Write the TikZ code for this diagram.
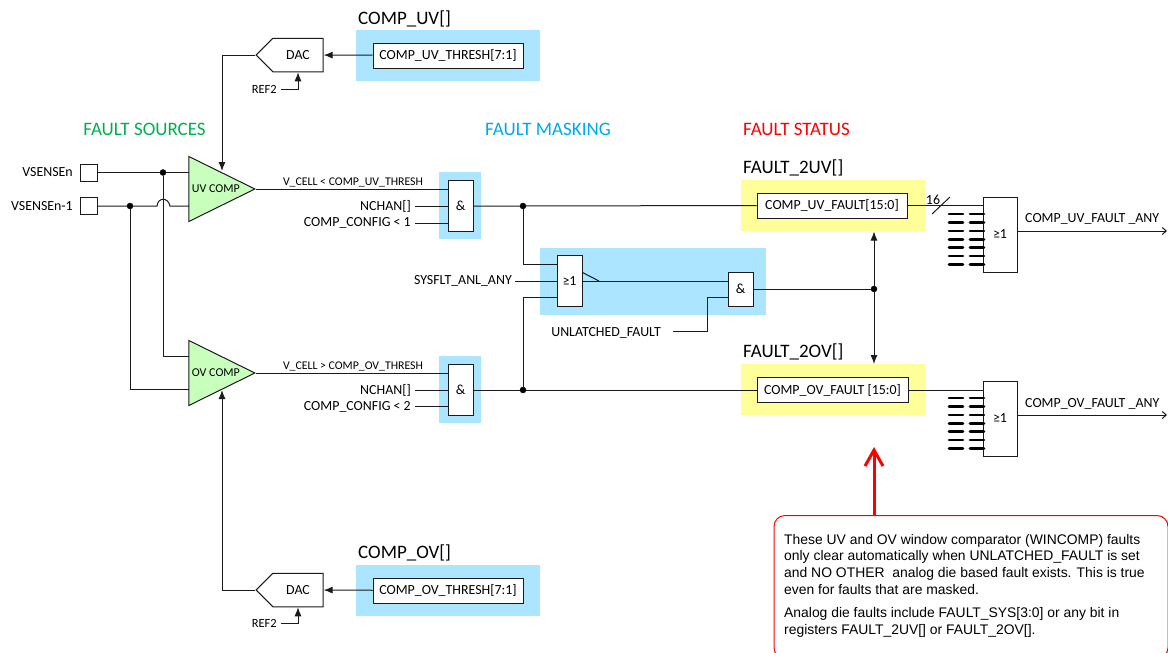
\documentclass[tikz,border=0pt]{standalone}
\usepackage{fontspec}
\setmainfont{Carlito}
\newfontfamily\notefont{Liberation Sans}
\usetikzlibrary{arrows.meta,shapes.geometric,shapes.symbols}
\definecolor{maskblue}{HTML}{ABE5FF}
\definecolor{statusyellow}{HTML}{FFFF99}
\definecolor{compgreen}{HTML}{C9FFBD}
\definecolor{wirecol}{HTML}{1A1A1A}
\definecolor{srcgreen}{HTML}{00B050}
\definecolor{maskhead}{HTML}{00A8F0}
\begin{document}
\begin{tikzpicture}[x=1pt, y=-1pt, font=\fontsize{13.9}{16}\selectfont,
        w/.style={draw=wirecol, line width=1pt},
        wto/.style={w, -{Latex[length=9pt,width=7pt]}},
        s/.style={draw=wirecol, line width=1pt, fill=white, minimum height=25pt, inner sep=0pt},
        g/.style={draw=wirecol, line width=1pt, fill=white, minimum width=25pt, inner sep=0pt},
        v/.style={draw, fill=black, circle, inner sep=0pt, minimum size=6pt},
        pin/.style={draw=wirecol, line width=1pt, fill=white, minimum size=17pt, inner sep=0pt},
        t/.style={inner sep=0pt},
        small/.style={inner sep=0pt, font=\fontsize{11.8}{14}\selectfont},
        head/.style={inner sep=0pt, font=\fontsize{19}{22}\selectfont},
        regname/.style={inner sep=0pt, anchor=west, font=\fontsize{19}{22}\selectfont},
        comp/.style={draw=wirecol, line width=1pt, fill=compgreen, shape=isosceles triangle, isosceles triangle apex angle=52,
            isosceles triangle stretches, minimum width=65pt, minimum height=66pt, inner sep=0pt, anchor=apex, font=\fontsize{12}{14}\selectfont},
        dac/.style={draw=wirecol, line width=1pt, fill=white, shape=signal, signal to=west, signal pointer angle=90, inner sep=0pt,
            minimum height=33.5pt, minimum width=67pt}]
        \useasboundingbox (0,0) rectangle (1168,653);
        % backgrounds
        \fill[maskblue] (356,30) rectangle (540,81);
        \fill[maskblue] (356,565) rectangle (540,616);
        \fill[maskblue] (439,172) rectangle (481,239);
        \fill[maskblue] (439,356) rectangle (481,423);
        \fill[maskblue] (540,248) rectangle (766,315);
        \fill[statusyellow] (741,180) rectangle (925,231);
        \fill[statusyellow] (741,364) rectangle (925,415);

        % headings
        \node[head, text=srcgreen] (srchead) at (144.5,129) {FAULT SOURCES};
        \node[head, text=maskhead] (maskhd) at (548,129) {FAULT MASKING};
        \node[head, text=red] (stathead) at (796.5,129) {FAULT STATUS};
        \node[regname] (regcompuv) at (358,19) {COMP\_UV[]};
        \node[regname] (regcompov) at (358,553) {COMP\_OV[]};
        \node[regname] (regfaultuv) at (743,168) {FAULT\_2UV[]};
        \node[regname] (regfaultov) at (743,352) {FAULT\_2OV[]};

        % inputs
        \node[pin] (pinn) at (88.5,172.5) {};
        \node[pin] (pinm) at (88.5,206) {};
        \node[t, anchor=east] (lbln) at (73,172.5) {VSENSEn};
        \node[t, anchor=east] (lblm) at (73,206) {VSENSEn-1};

        % comparators
        \node[comp] (uvcomp) at (256,189) {UV COMP};
        \node[comp] (ovcomp) at (256,373) {OV COMP};
        \node[v] (dotn) at (163,172.5) {};
        \node[v] (dotm) at (130,206) {};
        \coordinate (uvinn) at (189,172.5);
        \coordinate (uvinm) at (189,206);
        \coordinate (ovinn) at (189,356);
        \coordinate (ovinm) at (189,389.5);
        \draw[w] (pinn) -- (dotn) -- (uvinn);
        \draw[w] (pinm) -- (dotm) -- (157,206) .. controls (158,197) and (168,197) .. (170,206) -- (uvinm);
        \draw[w] (dotn) -- (dotn |- ovinn) -- (ovinn);
        \draw[w] (dotm) -- (dotm |- ovinm) -- (ovinm);

        % DACs
        \node[dac] (dacuv) at (298,55) {DAC};
        \node[dac] (dacov) at (298,590) {DAC};
        \node[s, minimum width=150pt] (threshuv) at (448,55.5) {COMP\_UV\_THRESH[7:1]};
        \node[s, minimum width=150pt] (threshov) at (448,590.5) {COMP\_OV\_THRESH[7:1]};
        \draw[wto] (threshuv) -- (dacuv);
        \draw[wto] (threshov) -- (dacov);
        \coordinate (uvcompin) at (222,171);
        \coordinate (ovcompin) at (222,390);
        \draw[wto] (dacuv.west) -- (dacuv.west -| uvcompin) -- (uvcompin);
        \draw[wto] (dacov.west) -- (dacov.west -| ovcompin) -- (ovcompin);
        \node[t, anchor=east, font=\fontsize{12.5}{14}\selectfont] (refuv) at (277,89.5) {REF2};
        \node[t, anchor=east, font=\fontsize{12.5}{14}\selectfont] (refov) at (277,623) {REF2};
        \draw[wto] (refuv.east) ++(4,0) -- (298,89.5) -- (dacuv.south);
        \draw[wto] (refov.east) ++(4,0) -- (298,623) -- (dacov.south);

        % masking gates
        \node[g, minimum height=50.5pt] (anduv) at (460.5,206) {\&};
        \node[g, minimum height=50.5pt] (andov) at (460.5,390) {\&};
        \draw[w] (uvcomp.apex) -- (anduv.west |- uvcomp.apex);
        \draw[w] (ovcomp.apex) -- (andov.west |- ovcomp.apex);
        \node[small, anchor=south] (vuv) at (353,187) {V\_CELL < COMP\_UV\_THRESH};
        \node[small, anchor=south] (vov) at (353,371) {V\_CELL > COMP\_OV\_THRESH};
        \node[t, anchor=east] (nchanuv) at (411,206) {NCHAN[]};
        \node[t, anchor=east] (cfguv) at (411,223) {COMP\_CONFIG < 1};
        \node[t, anchor=east] (nchanov) at (411,390) {NCHAN[]};
        \node[t, anchor=east] (cfgov) at (411,406.5) {COMP\_CONFIG < 2};
        \draw[w] (nchanuv.east) ++(4,0) -- (anduv.west);
        \draw[w] (cfguv.east) ++(4,0) -- (cfguv -| anduv.west);
        \draw[w] (nchanov.east) ++(4,0) -- (andov.west);
        \draw[w] (cfgov.east) ++(4,0) -- (cfgov -| andov.west);

        % status registers
        \node[s, minimum width=150pt] (faultuv) at (832,205.5) {COMP\_UV\_FAULT[15:0]};
        \node[s, minimum width=151pt] (faultov) at (832.5,390) {COMP\_OV\_FAULT [15:0]};
        \node[v] (dotuv) at (523,206) {};
        \node[v] (dotov) at (523,390) {};
        \draw[w] (anduv.east) -- (dotuv) -- (faultuv.west);
        \draw[w] (andov.east) -- (dotov) -- (faultov.west);

        % unlatch logic
        \node[g, minimum height=50.5pt] (orgate) at (569.5,281) {≥1};
        \node[g, minimum height=34pt] (andlatch) at (740.5,289) {\&};
        \coordinate (orina) at (556.5,264.5);
        \coordinate (orinc) at (556.5,297.5);
        \coordinate (latchin) at (728,297.5);
        \draw[w] (dotuv) -- (dotuv |- orina) -- (orina);
        \draw[w] (dotov) -- (dotov |- orinc) -- (orinc);
        \node[t, anchor=east] (sysflt) at (512,281) {SYSFLT\_ANL\_ANY};
        \draw[w] (sysflt.east) ++(3,0) -- (orgate.west);
        \draw[w] (orgate.east) -- (andlatch.west |- orgate.east);
        \draw[w] (orgate.east) ++(0,-8.5) -- (599,281);
        \node[t, anchor=east] (unlatched) at (661,333) {UNLATCHED\_FAULT};
        \draw[w] (unlatched.east) ++(12,-2) -- (707,331) -- (707,297.5) -- (latchin);
        \node[v] (dotstat) at (874,289) {};
        \draw[w] (andlatch.east) -- (dotstat);
        \draw[wto] (dotstat) -- (874,231.5);
        \draw[wto] (dotstat) -- (874,364);

        % any gates
        \node[g, minimum width=34pt, minimum height=75pt] (anyuv) at (1000,234.5) {≥1};
        \node[g, minimum width=34pt, minimum height=75pt] (anyov) at (1000,418.5) {≥1};
        \draw[w] (faultuv.east) -- (anyuv.west |- faultuv.east);
        \draw[w] (faultov.east) -- (anyov.west |- faultov.east);
        \node[t] (bus) at (933,199.5) {16};
        \draw[w] (932,214) -- (950,197);
        \foreach \y in {214,222.3,231,239.3,247.7,256,264.3} {
            \draw[line width=2.6pt, line cap=round] (949,\y) -- (963,\y);
            \draw[line width=2.6pt, line cap=round] (970,\y) -- (984,\y);
            \draw[line width=2.6pt, line cap=round] (949,\y+184) -- (963,\y+184);
            \draw[line width=2.6pt, line cap=round] (970,\y+184) -- (984,\y+184);
        }
        \coordinate (outuv) at (1167,231);
        \coordinate (outov) at (1167,415);
        \draw[w, -{Straight Barb[length=4pt,width=7pt]}] (anyuv.east |- outuv) -- (outuv);
        \draw[w, -{Straight Barb[length=4pt,width=7pt]}] (anyov.east |- outov) -- (outov);
        \node[t, anchor=west] (anyuvlbl) at (1025,219) {COMP\_UV\_FAULT \_ANY};
        \node[t, anchor=west] (anyovlbl) at (1025,404) {COMP\_OV\_FAULT \_ANY};

        % note
        \node[draw=red, line width=1pt, rounded corners=11pt, fill=white, anchor=north west, minimum width=394pt, minimum height=143pt, inner sep=0pt] (notebox) at (773.5,515) {};
        \node[anchor=north west, inner sep=0pt, align=left, font=\notefont\fontsize{13.9}{16.6}\selectfont] (note) at (784,534) {These UV and OV window comparator (WINCOMP) faults\\only clear automatically when UNLATCHED\_FAULT is set\\and NO OTHER \ analog die based fault exists. This is true\\even for faults that are masked.\\[7pt]Analog die faults include FAULT\_SYS[3:0] or any bit in\\registers FAULT\_2UV[] or FAULT\_2OV[].};
        \coordinate (notetip) at (874,447);
        \draw[red, line width=3pt, -{Straight Barb[length=16pt,width=18pt]}] (notetip |- notebox.north) -- (notetip);
\end{tikzpicture}
\end{document}
